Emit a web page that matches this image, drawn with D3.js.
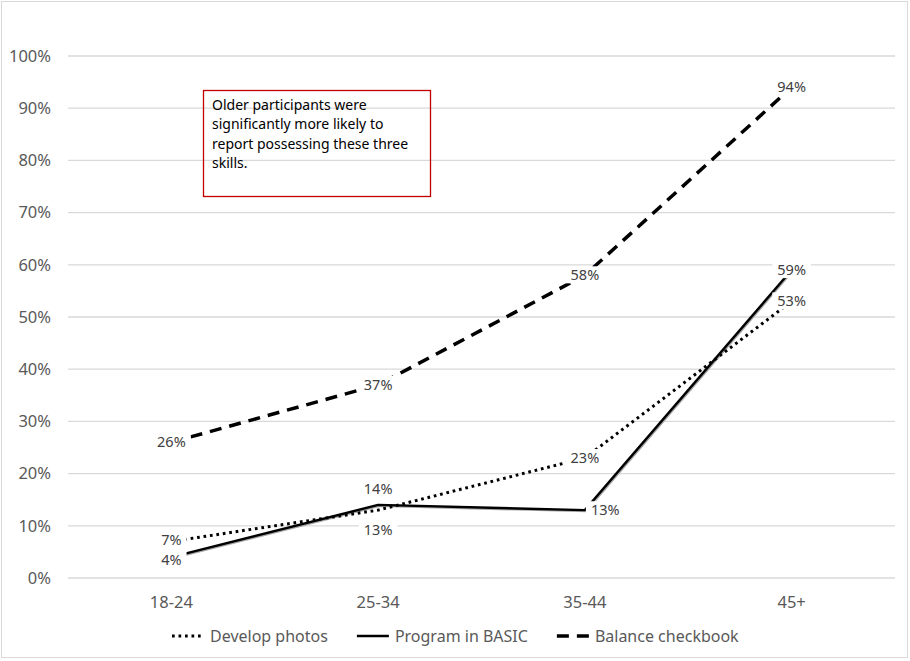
<!DOCTYPE html>
<html>
<head>
<meta charset="utf-8">
<script src="https://cdn.jsdelivr.net/npm/d3@7"></script>
<style>
  body { margin: 0; background: #fff; }
  svg text { font-family: "Noto Sans", "Liberation Sans", sans-serif; }
</style>
</head>
<body>
<div id="chart"></div>
<script>
// categories on the x axis
const ages = ["18-24", "25-34", "35-44", "45+"];
// y axis ticks
const y_ticks = [0, 0.1, 0.2, 0.3, 0.4, 0.5, 0.6, 0.7, 0.8, 0.9, 1.0];
// series values (shares of participants)
const develop_photos = [0.07, 0.13, 0.23, 0.53];
const program_basic = [0.04, 0.14, 0.13, 0.59];
const balance_checkbook = [0.26, 0.37, 0.58, 0.94];
const series_names = ["Develop photos", "Program in BASIC", "Balance checkbook"];
const note_lines = ["Older participants were", "significantly more likely to", "report possessing these three", "skills."];

// where each data label sits relative to its point
// (c = centre, b = below, a = above, r = right, u/d = centre nudged up/down)
const label_pos = [
  ["u", "b", "c", "c"],
  ["d", "a", "r", "c"],
  ["c", "c", "c", "c"]
];

const width = 910;
const height = 661;
const plot = { left: 68, right: 895, top: 56, bottom: 578 };

const svg = d3.select("#chart")
  .append("svg")
  .attr("width", width)
  .attr("height", height);

// outer border
svg.append("rect")
  .attr("x", 1.5).attr("y", 1.5)
  .attr("width", 906).attr("height", 656)
  .attr("fill", "#fff")
  .attr("stroke", "#d9d9d9");

const x = d3.scaleBand()
  .domain(ages)
  .range([plot.left, plot.right]);
const cx = d => x(d) + x.bandwidth() / 2;

const y = d3.scaleLinear()
  .domain([0, 1])
  .range([plot.bottom, plot.top]);

// gridlines
svg.append("g")
  .selectAll("line")
  .data(y_ticks)
  .enter()
  .append("line")
  .attr("x1", plot.left).attr("x2", plot.right)
  .attr("y1", d => y(d)).attr("y2", d => y(d))
  .attr("stroke", "#d9d9d9")
  .attr("stroke-width", 1.3);

// y axis labels
const y_axis = svg.append("g")
  .attr("transform", `translate(${plot.left},0)`)
  .call(d3.axisLeft(y).tickValues(y_ticks).tickFormat(d3.format(".0%")).tickSize(0).tickPadding(17));
y_axis.select(".domain").remove();
y_axis.selectAll("text")
  .attr("font-size", "16.5px")
  .attr("fill", "#595959")
  .style("font-family", "'Noto Sans', sans-serif");

// x axis labels
const x_axis = svg.append("g")
  .attr("transform", `translate(0,${plot.bottom})`)
  .call(d3.axisBottom(x).tickSize(0).tickPadding(18));
x_axis.select(".domain").remove();
x_axis.selectAll("text")
  .attr("font-size", "16.5px")
  .attr("fill", "#595959")
  .style("font-family", "'Noto Sans', sans-serif");

// line styles
const styles = [
  { width: 3, dash: "2.7 3.8" },
  { width: 2.4, dash: null },
  { width: 3.5, dash: "12 8" }
];
const all_series = [develop_photos, program_basic, balance_checkbook];

const line = d3.line()
  .x((d, i) => cx(ages[i]))
  .y(d => y(d));

// shadow under the solid line
svg.append("path")
  .datum(program_basic)
  .attr("d", line)
  .attr("transform", "translate(1,1.2)")
  .attr("fill", "none")
  .attr("stroke", "#a6a6a6")
  .attr("stroke-width", 2);

all_series.forEach((s, k) => {
  svg.append("path")
    .datum(s)
    .attr("d", line)
    .attr("fill", "none")
    .attr("stroke", "#000")
    .attr("stroke-width", styles[k].width)
    .attr("stroke-dasharray", styles[k].dash)
    .attr("stroke-linejoin", "round");
});

// data labels with white backing
const label_layer = svg.append("g");
all_series.forEach((s, k) => {
  s.forEach((v, i) => {
    const pos = label_pos[k][i];
    let lx = cx(ages[i]);
    let ly = y(v);
    let anchor = "middle";
    if (pos === "b") ly += 20;
    if (pos === "a") ly -= 16;
    if (pos === "u") ly -= 1.5;
    if (pos === "d") ly += 2.5;
    if (pos === "r") { lx += 6; anchor = "start"; }
    const g = label_layer.append("g");
    const t = g.append("text")
      .attr("x", lx)
      .attr("y", ly)
      .attr("dy", "0.35em")
      .attr("text-anchor", anchor)
      .attr("font-size", "14.5px")
      .attr("fill", "#404040")
      .text(d3.format(".0%")(v));
    const bb = t.node().getBBox();
    g.insert("rect", "text")
      .attr("x", bb.x - 5)
      .attr("y", bb.y + 2)
      .attr("width", bb.width + 10)
      .attr("height", bb.height - 3)
      .attr("fill", "#fff");
  });
});

// note box
svg.append("rect")
  .attr("x", 203.5).attr("y", 90.5)
  .attr("width", 227).attr("height", 106)
  .attr("fill", "none")
  .attr("stroke", "#c00000")
  .attr("stroke-width", 1.3);

svg.append("g")
  .selectAll("text")
  .data(note_lines)
  .enter()
  .append("text")
  .attr("x", 212)
  .attr("y", (d, i) => 110 + i * 19.3)
  .attr("font-size", "14px")
  .attr("fill", "#000")
  .text(d => d);

// legend
const legend = svg.append("g");
let lx = 172;
series_names.forEach((name, k) => {
  legend.append("line")
    .attr("x1", lx).attr("x2", lx + 32)
    .attr("y1", 636).attr("y2", 636)
    .attr("stroke", "#000")
    .attr("stroke-width", styles[k].width)
    .attr("stroke-dasharray", styles[k].dash);
  const t = legend.append("text")
    .attr("x", lx + 38)
    .attr("y", 636)
    .attr("dy", "0.35em")
    .attr("font-size", "16px")
    .attr("fill", "#595959")
    .text(name);
  lx += 38 + t.node().getComputedTextLength() + 29;
});
</script>
</body>
</html>
